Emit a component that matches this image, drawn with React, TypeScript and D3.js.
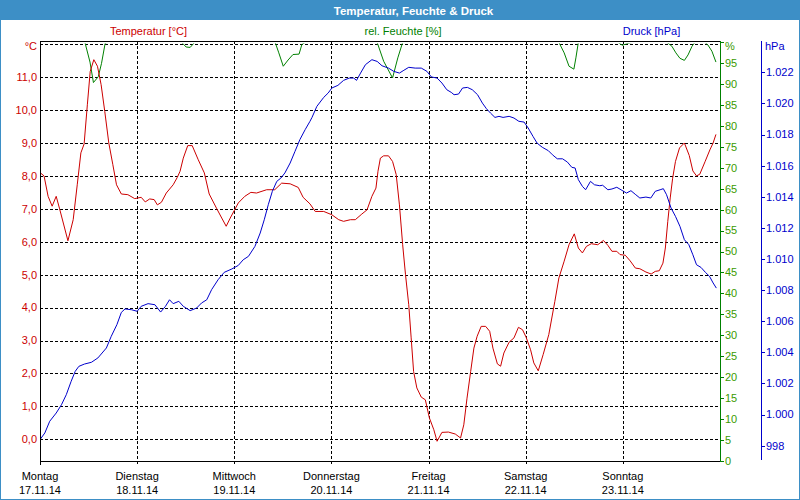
import React from "react";
import * as d3 from "d3";

// ---- Data (hours from Mon 17.11.14 00:00, value) ----
const temperature: [number, number][] = [
  [0, 8.1], [1, 8.0], [2, 7.38], [3, 7.08], [4, 7.38], [4.8, 7.02], [6.9, 6.03], [8.2, 6.67], [9.2, 7.73],
  [10.1, 8.7], [10.9, 8.97], [11.7, 10.16], [12.4, 11.17], [13.3, 11.53], [14.2, 11.33], [15.1, 10.77],
  [16, 9.96], [17, 9.0], [18, 8.34], [18.9, 7.73], [20.1, 7.45], [21.7, 7.43], [23.4, 7.31], [25, 7.35],
  [26, 7.21], [27.1, 7.3], [28.2, 7.28], [29, 7.12], [30, 7.2], [31.2, 7.48], [32.9, 7.73], [33.9, 7.95],
  [34.6, 8.14], [35.4, 8.54], [36.5, 8.92], [37.6, 8.92], [39.1, 8.49], [40.6, 8.09], [41.8, 7.45],
  [43.6, 7.02], [44.9, 6.72], [46, 6.47], [47, 6.72], [49, 7.18], [50.6, 7.38], [52.1, 7.5], [53.5, 7.48],
  [56, 7.58], [58, 7.58], [59.7, 7.78], [61.8, 7.76], [63.8, 7.65], [65, 7.35], [66.7, 7.15], [68, 6.92],
  [70.1, 6.92], [72.1, 6.82], [73.8, 6.67], [75, 6.62], [76.7, 6.67], [77.9, 6.67], [79.5, 6.84],
  [80.8, 6.97], [82, 7.38], [83, 7.63], [83.5, 8.14], [84.1, 8.54], [84.9, 8.61], [86.1, 8.61], [87.1, 8.44],
  [88, 8.04], [88.8, 7.12], [89.6, 5.91], [90.3, 5.0], [91.1, 4.09], [91.7, 3.08], [92.3, 2.06], [93.1, 1.56],
  [94.2, 1.28], [95.2, 1.2], [96.2, 0.65], [97.3, 0.29], [98.1, -0.06], [99.3, 0.21], [100.9, 0.22],
  [102.6, 0.16], [103.9, 0.04], [104.7, 0.44], [105.5, 1.25], [106.4, 2.06], [107.2, 2.77], [108, 3.13],
  [109, 3.43], [110.1, 3.43], [111.1, 3.28], [111.9, 2.77], [113, 2.29], [113.8, 2.22], [114.6, 2.62],
  [115.9, 2.95], [117.1, 3.08], [118.2, 3.4], [119.2, 3.33], [120.1, 3.1], [121.2, 2.72], [122, 2.32],
  [123.1, 2.08], [124.3, 2.57], [125.7, 3.18], [127.2, 4.19], [128.2, 4.9], [129.5, 5.41], [130.7, 5.91],
  [132, 6.24], [133, 5.81], [134, 5.66], [135, 5.86], [136.2, 5.94], [137.8, 5.91], [139.2, 6.04],
  [140.3, 5.89], [141.3, 5.71], [142.5, 5.71], [143.3, 5.61], [144.6, 5.59], [145.8, 5.42], [147.1, 5.2],
  [148.2, 5.18], [149.7, 5.08], [151, 5.02], [152, 5.1], [153, 5.12], [153.9, 5.35], [154.5, 5.81],
  [155.1, 6.62], [155.7, 7.33], [156.3, 7.93], [157, 8.44], [158, 8.85], [159.2, 9.0], [160.4, 8.62],
  [161.3, 8.15], [162.2, 8.0], [163, 8.05], [164.3, 8.43], [165.5, 8.79], [166.3, 9.0], [167, 9.26],
];

const humidity: [number, number][] = [
  [0, 100], [11.1, 100], [12.35, 95.3], [13.2, 90.4], [14.4, 91.8], [15.2, 95], [16.1, 99.8], [16.6, 100],
  [35, 100], [36.1, 98.9], [37.1, 98.8], [38.2, 100], [58.1, 100], [59, 97.5], [60.1, 94.3], [61.3, 95.8],
  [62.5, 97.1], [64, 97.2], [64.7, 99.5], [65.5, 100], [83.3, 100], [84.9, 95.5], [87.1, 91.5], [88.4, 96.3],
  [89.6, 100], [128.2, 100], [129.5, 97.5], [130.7, 94.3], [131.9, 93.6], [132.4, 96.3], [133, 100],
  [142.8, 100], [143.9, 99.3], [145, 99.7], [146.4, 100], [154.9, 100], [156.1, 99.1], [157.1, 97.5],
  [158.1, 96.2], [159.2, 95.7], [160.1, 97], [161.1, 99.1], [161.8, 100], [164.3, 100], [165, 99.4],
  [166, 97.9], [167, 95.3],
];

const pressure: [number, number][] = [
  [0, 998.39], [1.2, 998.82], [2.4, 999.57], [4, 1000.1], [5.3, 1000.63], [6.5, 1001.28], [7.7, 1002.14],
  [8.7, 1002.78], [9.6, 1003.1], [11, 1003.25], [12.7, 1003.36], [14.3, 1003.64], [16.4, 1004.28],
  [17.6, 1005.03], [19, 1005.78], [20.1, 1006.57], [21, 1006.79], [22.6, 1006.74], [24, 1006.64],
  [25, 1006.96], [26.7, 1007.13], [28.4, 1007.06], [29.8, 1006.59], [31, 1006.96], [32, 1007.38],
  [32.9, 1007.13], [34.3, 1007.28], [35.4, 1006.96], [37.1, 1006.68], [38.7, 1006.85], [39.9, 1007.17],
  [41.2, 1007.38], [42.4, 1008.03], [44, 1008.67], [45.5, 1009.14], [47.4, 1009.36], [49, 1009.59],
  [50.2, 1009.95], [51.5, 1010.17], [53.1, 1010.81], [54.4, 1011.67], [55.4, 1012.52], [56.4, 1013.49],
  [57.4, 1014.35], [58.5, 1014.99], [59.5, 1015.2], [60.5, 1015.53], [61.8, 1016.17], [63, 1016.92],
  [64.2, 1017.67], [65.5, 1018.31], [66.7, 1018.85], [67.2, 1019.1], [68.4, 1019.81], [70.1, 1020.39],
  [71.2, 1020.67], [72.1, 1020.99], [73.6, 1021.16], [75, 1021.48], [76.4, 1021.63], [77.5, 1021.63],
  [78.2, 1021.48], [79.2, 1021.95], [80.4, 1022.49], [82, 1022.81], [83.3, 1022.7], [84.5, 1022.42],
  [86.1, 1022.27], [87.4, 1022.06], [88.8, 1021.95], [89.9, 1022.13], [91.1, 1022.32], [92.7, 1022.27],
  [94.2, 1022.27], [95.6, 1022.06], [96.7, 1021.7], [98.1, 1021.63], [99.3, 1021.31], [100.5, 1020.88],
  [101.6, 1020.71], [102.3, 1020.56], [103.4, 1020.6], [104.4, 1020.99], [105.6, 1021.03], [106.8, 1020.88],
  [108.1, 1020.56], [109.3, 1020.02], [110.3, 1019.66], [111.3, 1019.38], [112.4, 1019.1], [113.4, 1019.17],
  [114.4, 1019.1], [115.9, 1019.17], [117.1, 1019.06], [118.3, 1018.85], [119.6, 1018.8], [120.6, 1018.42],
  [121.8, 1017.88], [122.8, 1017.45], [124.1, 1017.18], [125.6, 1016.96], [126.6, 1016.7], [127.8, 1016.44],
  [129.1, 1016.44], [130.3, 1016.23], [131.4, 1015.89], [132.2, 1015.85], [133, 1015.1], [134, 1014.67],
  [134.8, 1014.45], [136, 1014.99], [137, 1014.77], [138.3, 1014.71], [139, 1014.74], [140.3, 1014.45],
  [141.3, 1014.5], [142.5, 1014.61], [143.8, 1014.41], [144.9, 1014.24], [146, 1014.39], [147.2, 1014.13],
  [148.2, 1013.92], [149.7, 1013.98], [150.9, 1013.92], [152, 1014.35], [153.2, 1014.45], [154, 1014.52],
  [154.8, 1014.13], [155.9, 1013.28], [157, 1012.74], [158.1, 1012.1], [159.2, 1011.24], [160.3, 1010.92],
  [161.3, 1010.27], [162.2, 1009.63], [163.3, 1009.46], [164.4, 1009.14], [165.4, 1008.89], [166.3, 1008.46],
  [167.1, 1008.13],
];

const dayNames = ["Montag", "Dienstag", "Mittwoch", "Donnerstag", "Freitag", "Samstag", "Sonntag"];
const dayDates = ["17.11.14", "18.11.14", "19.11.14", "20.11.14", "21.11.14", "22.11.14", "23.11.14"];
const tempTicks = [0, 1, 2, 3, 4, 5, 6, 7, 8, 9, 10, 11, 12];
const humTicks = [0, 5, 10, 15, 20, 25, 30, 35, 40, 45, 50, 55, 60, 65, 70, 75, 80, 85, 90, 95, 100];
const pressTicks = [998, 1000, 1002, 1004, 1006, 1008, 1010, 1012, 1014, 1016, 1018, 1020, 1022];

const TITLE = "Temperatur, Feuchte & Druck";
const START = Date.UTC(2014, 10, 17);

const FONT = "'Liberation Sans', Arial, sans-serif";
const RED = "#cc0000";
const GREEN = "#008000";
const GREEN_TXT = "#3a9a00";
const BLUE = "#0000cc";
const FRAME = "#3d8fc6";

const L = 40, R = 720, T = 41, B = 461;

export default function App() {
  const toDate = (h: number) => new Date(START + h * 3600e3);
  const x = d3.scaleUtc().domain([new Date(START), toDate(168)]).range([L, R]);
  const yT = d3.scaleLinear().domain([0, 12]).range([439.3, 44.2]);
  const yH = d3.scaleLinear().domain([0, 100]).range([460.7, 42.4]);
  const yP = d3.scaleLinear().domain([998, 1022]).range([445.7, 72.3]);

  const line = (ys: d3.ScaleLinear<number, number>) =>
    d3.line<[number, number]>().x((d) => x(toDate(d[0]))).y((d) => ys(d[1]));

  const de = d3.formatLocale({ decimal: ",", thousands: ".", grouping: [3], currency: ["", ""] });
  const fT = de.format(".1f");
  const fP = de.format(",d");

  const days = d3.range(7).map((i) => toDate(i * 24));

  return (
    <svg width={800} height={500} style={{ position: "absolute", left: 0, top: 0, background: "#fff" }}
      fontFamily={FONT} fontSize={11}>
      <defs>
        <clipPath id="plot"><rect x={L} y={T} width={R - L} height={B - T} /></clipPath>
        <clipPath id="plotH"><rect x={L} y={43.5} width={R - L} height={B - 43.5} /></clipPath>
      </defs>
      <rect x={0} y={0} width={800} height={500} fill="#fff" />
      <rect x={0} y={0} width={800} height={20} fill={FRAME} />
      <rect x={0.5} y={0.5} width={799} height={499} fill="none" stroke={FRAME} strokeWidth={1} />
      <text x={413.5} y={14.5} textAnchor="middle" fill="#fff" fontWeight="bold" fontSize={11.5}>{TITLE}</text>

      <text x={148.5} y={35} textAnchor="middle" fill={RED}>Temperatur [°C]</text>
      <text x={403} y={35} textAnchor="middle" fill={GREEN}>rel. Feuchte [%]</text>
      <text x={651.5} y={35} textAnchor="middle" fill={BLUE}>Druck [hPa]</text>

      {/* horizontal grid */}
      <g stroke="#000" strokeDasharray="3,2" shapeRendering="crispEdges">
        {tempTicks.map((t) => (
          <line key={t} x1={L} x2={R} y1={Math.round(yT(t)) + 0.5} y2={Math.round(yT(t)) + 0.5} />
        ))}
        {days.slice(1).map((d, i) => (
          <line key={i} x1={Math.round(x(d)) + 0.5} x2={Math.round(x(d)) + 0.5} y1={T} y2={B + 3} />
        ))}
      </g>

      {/* series */}
      <g fill="none" strokeWidth={1}>
        <path d={line(yH)(humidity) || ""} stroke={GREEN} clipPath="url(#plotH)" />
        <path d={line(yT)(temperature) || ""} stroke={RED} clipPath="url(#plot)" />
        <path d={line(yP)(pressure) || ""} stroke={BLUE} clipPath="url(#plot)" />
      </g>

      {/* frame */}
      <g shapeRendering="crispEdges">
        <line x1={L} x2={R} y1={T + 0.5} y2={T + 0.5} stroke="#000" />
        <line x1={L - 0.5} x2={R} y1={B + 0.5} y2={B + 0.5} stroke="#000" />
        <line x1={L + 0.5} x2={L + 0.5} y1={T} y2={B + 4} stroke="#000" />
        <line x1={R + 0.5} x2={R + 0.5} y1={T} y2={B + 1} stroke={GREEN} />
        <line x1={761.5} x2={761.5} y1={T} y2={460} stroke={BLUE} />
        {humTicks.map((t) => (
          <line key={t} x1={R} x2={R + 4} y1={Math.round(yH(t)) + 0.5} y2={Math.round(yH(t)) + 0.5} stroke={GREEN} />
        ))}
        {pressTicks.map((t) => (
          <line key={t} x1={761} x2={765} y1={Math.round(yP(t)) + 0.5} y2={Math.round(yP(t)) + 0.5} stroke={BLUE} />
        ))}
      </g>

      {/* left axis labels */}
      <g fill={RED} textAnchor="end">
        {tempTicks.map((t) => (
          <text key={t} x={37} y={t === 12 ? 46.5 : yT(t)} dy="0.35em">{t === 12 ? "°C" : fT(t)}</text>
        ))}
      </g>
      {/* humidity labels */}
      <g fill={GREEN_TXT}>
        {humTicks.map((t) => (
          <text key={t} x={725} y={t === 100 ? 46 : yH(t)} dy="0.35em">{t === 100 ? "%" : String(t)}</text>
        ))}
      </g>
      {/* pressure labels */}
      <g fill={BLUE}>
        {pressTicks.map((t) => (
          <text key={t} x={766} y={yP(t)} dy="0.35em">{fP(t)}</text>
        ))}
        <text x={765} y={46} dy="0.35em">hPa</text>
      </g>

      {/* x axis labels */}
      <g fill="#000" textAnchor="middle">
        {days.map((d, i) => (
          <g key={i}>
            <text x={x(d)} y={479.5}>{dayNames[i]}</text>
            <text x={x(d)} y={493.5}>{dayDates[i]}</text>
          </g>
        ))}
      </g>
    </svg>
  );
}
